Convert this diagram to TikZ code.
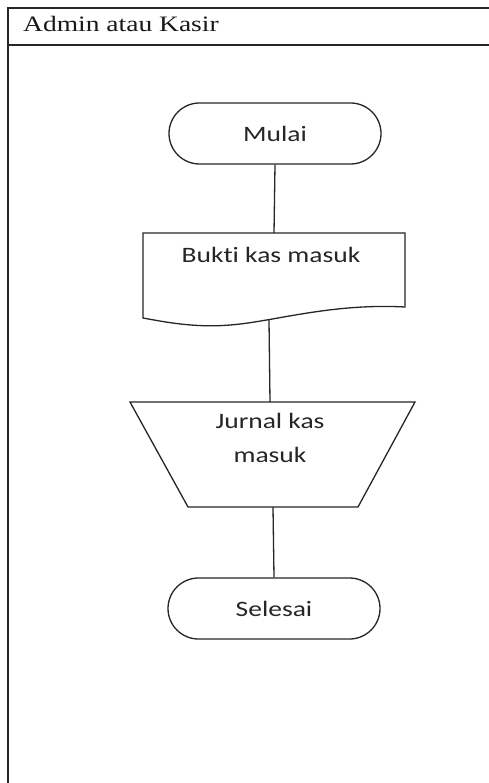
\documentclass[tikz,border=0pt]{standalone}
\usepackage{fontspec}
\setmainfont{Liberation Serif}[FakeStretch=1.25]
\newfontfamily\flowfont{Carlito}[FakeStretch=1.25,Ligatures=NoCommon]
\usetikzlibrary{shapes.misc}
\begin{document}
\begin{tikzpicture}[x=1pt,y=-1pt,
  lane/.style={line width=2pt, draw=black!85},
  flowline/.style={line width=1.3pt, draw=black!85},
  terminal/.style={rounded rectangle, draw=black!85, line width=1.3pt,
    minimum width=212pt, minimum height=61pt, inner sep=0pt,
    font=\flowfont\fontsize{22}{27}\selectfont, text=black!85},
  label/.style={font=\flowfont\fontsize{22}{34}\selectfont, text=black!85, inner sep=0pt}
]
\useasboundingbox (0,0) rectangle (489,783);
\fill[white] (0,0) rectangle (489,783);

% swimlane frame and title
\draw[lane] (8,783) -- (8,8) -- (489,8);
\draw[lane] (8,45) -- (489,45);
\node[anchor=base west, inner sep=0pt, font=\fontsize{22}{26}\selectfont, text=black!90]
  (lanetitle) at (23,32) {Admin atau Kasir};

% start
\node[terminal] (mulai) at (275,133.5) {Mulai};

% document: Bukti kas masuk
\coordinate (doctop) at (274,233);
\coordinate (docbot) at (269,320);
\draw[flowline] (143,233) -- (405,233) -- (405,307)
  .. controls (330,303) and (272,322) .. (230,325)
  .. controls (195,328) and (165,322) .. (143,318) -- cycle;
\node[label, anchor=base] (bukti) at (271,262) {Bukt\kern0pt i kas masuk};

% manual operation: Jurnal kas masuk
\coordinate (jtop) at (270,402);
\coordinate (jbot) at (273,507);
\draw[flowline] (130,402) -- (415,402) -- (358,507) -- (188,507) -- cycle;
\node[label, align=center] (jurnal) at (270,438) {Jurnal kas\\masuk};

% end
\node[terminal] (selesai) at (274,608.5) {Selesai};

% connectors
\draw[flowline] (mulai.south) -- (doctop);
\draw[flowline] (docbot) -- (jtop);
\draw[flowline] (jbot) -- (selesai.north);
\end{tikzpicture}
\end{document}
